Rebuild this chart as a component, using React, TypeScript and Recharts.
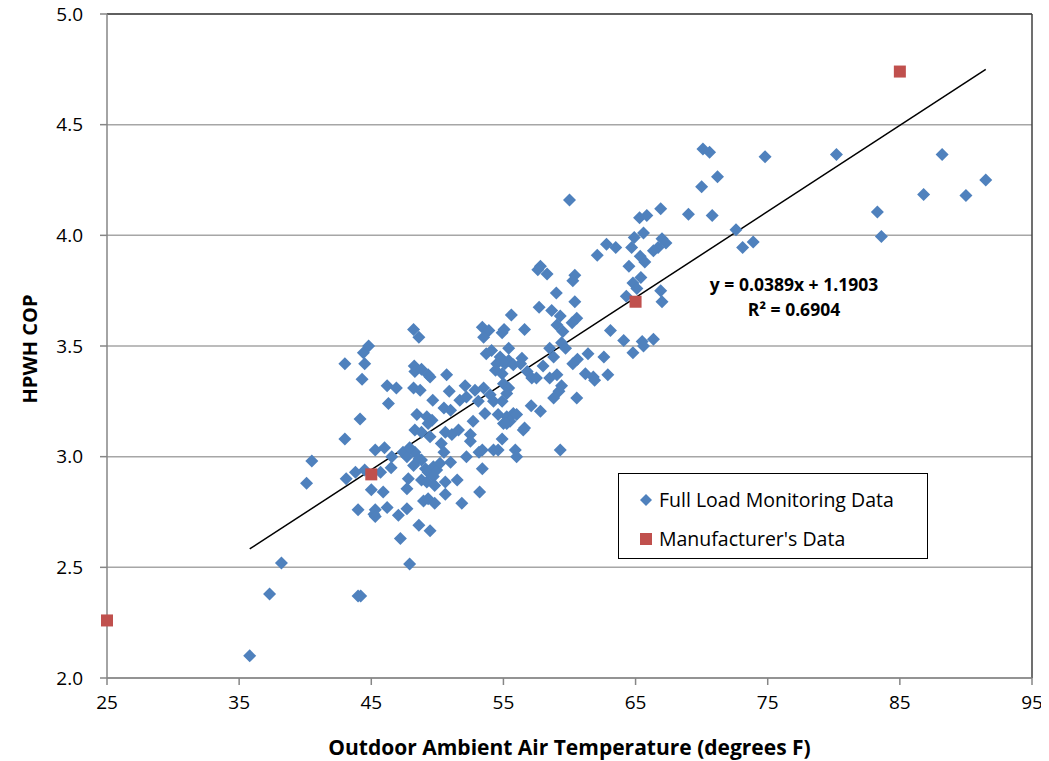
import React from 'react';
import {
  ScatterChart,
  Scatter,
  XAxis,
  YAxis,
  CartesianGrid,
  ReferenceLine,
  Label,
} from 'recharts';

// Full load monitoring data: outdoor temperature (°F) and COP
const monitorTemp: number[] = [
  35.8, 37.3, 38.2, 44.0, 44.2, 40.1, 40.5, 43.0, 44.15, 43.0,
  44.3, 44.5, 44.4, 44.8, 46.2, 46.3, 43.1, 43.8, 44.5, 45.3,
  46.0, 45.0, 45.9, 44.0, 45.2, 45.3, 46.2, 46.5, 45.7, 46.9,
  60.0, 65.3, 65.85, 66.9, 64.9, 65.6, 67.0, 67.3, 66.7, 66.35,
  62.8, 63.5, 64.7, 62.1, 65.35, 65.7, 64.5, 57.8, 57.6, 58.3,
  60.4, 60.25, 65.4, 64.8, 65.1, 59.0, 66.9, 64.3, 60.4, 67.0,
  57.7, 58.65, 59.3, 55.6, 60.55, 60.2, 59.05, 59.5, 63.1, 64.1,
  65.5, 65.6, 66.35, 64.8, 48.2, 48.6, 53.4, 53.9, 53.5, 55.05,
  54.9, 56.6, 59.4, 59.7, 58.5, 58.8, 61.4, 62.6, 60.6, 60.25,
  58.0, 61.2, 61.8, 61.9, 62.9, 59.05, 58.5, 59.4, 59.2, 58.8,
  60.55, 57.1, 57.8, 48.25, 48.3, 48.8, 49.3, 49.45, 48.2, 48.7,
  50.7, 50.9, 49.65, 48.45, 49.2, 49.6, 50.5, 51.0, 52.1, 52.85,
  53.5, 51.7, 52.2, 54.1, 53.7, 55.4, 54.75, 55.4, 56.4, 54.5,
  55.1, 55.75, 56.3, 54.4, 54.9, 56.8, 57.15, 57.5, 54.0, 54.25,
  55.0, 55.4, 55.25, 54.9, 54.6, 55.25, 55.75, 56.0, 55.5, 55.0,
  53.6, 52.7, 56.6, 53.1, 46.55, 47.4, 47.7, 48.3, 48.6, 48.8,
  48.2, 49.1, 49.3, 49.7, 49.95, 50.2, 51.0, 48.8, 49.2, 49.7,
  49.8, 50.6, 47.8, 47.7, 48.95, 49.3, 49.8, 50.6, 51.5, 51.85,
  53.4, 53.2, 45.3, 47.05, 47.7, 48.6, 49.45, 47.2, 47.9, 49.3,
  48.3, 48.8, 49.45, 50.6, 51.1, 51.6, 52.5, 52.5, 55.25, 56.5,
  54.9, 54.25, 54.6, 55.9, 56.0, 53.4, 53.15, 52.2, 50.3, 50.5,
  47.9, 59.3, 70.1, 70.6, 74.8, 80.2, 88.2, 71.2, 70.0, 91.5,
  86.8, 90.0, 83.3, 69.0, 70.8, 72.6, 83.6, 73.9, 73.1,
];

const monitorCop: number[] = [
  2.10, 2.38, 2.52, 2.37, 2.37, 2.88, 2.98, 3.08, 3.17, 3.42,
  3.35, 3.42, 3.47, 3.50, 3.32, 3.24, 2.90, 2.93, 2.94, 3.03,
  3.04, 2.85, 2.84, 2.76, 2.74, 2.76, 2.77, 2.95, 2.93, 3.31,
  4.16, 4.08, 4.09, 4.12, 3.99, 4.01, 3.985, 3.965, 3.945, 3.93,
  3.96, 3.945, 3.945, 3.91, 3.905, 3.88, 3.86, 3.86, 3.845, 3.825,
  3.82, 3.795, 3.81, 3.785, 3.76, 3.74, 3.75, 3.725, 3.70, 3.70,
  3.675, 3.66, 3.635, 3.64, 3.625, 3.605, 3.595, 3.565, 3.57, 3.525,
  3.52, 3.50, 3.53, 3.47, 3.575, 3.54, 3.585, 3.57, 3.54, 3.575,
  3.56, 3.575, 3.515, 3.49, 3.49, 3.45, 3.465, 3.45, 3.44, 3.42,
  3.41, 3.375, 3.36, 3.345, 3.37, 3.37, 3.355, 3.32, 3.295, 3.265,
  3.265, 3.23, 3.205, 3.41, 3.385, 3.395, 3.37, 3.36, 3.31, 3.30,
  3.37, 3.295, 3.255, 3.19, 3.18, 3.165, 3.22, 3.21, 3.32, 3.30,
  3.31, 3.255, 3.27, 3.48, 3.465, 3.49, 3.45, 3.435, 3.445, 3.42,
  3.42, 3.415, 3.42, 3.39, 3.375, 3.385, 3.355, 3.355, 3.28, 3.25,
  3.33, 3.31, 3.285, 3.25, 3.19, 3.18, 3.195, 3.19, 3.16, 3.15,
  3.195, 3.16, 3.13, 3.25, 3.00, 3.02, 3.00, 3.02, 2.99, 2.985,
  2.96, 2.945, 2.93, 2.955, 2.94, 2.97, 2.975, 2.895, 2.885, 2.91,
  2.87, 2.885, 2.90, 2.855, 2.80, 2.81, 2.79, 2.83, 2.895, 2.79,
  2.945, 2.84, 2.73, 2.735, 2.765, 2.69, 2.665, 2.63, 2.515, 3.15,
  3.12, 3.11, 3.09, 3.11, 3.10, 3.12, 3.10, 3.07, 3.15, 3.12,
  3.08, 3.03, 3.03, 3.03, 3.00, 3.03, 3.02, 3.00, 3.06, 3.02,
  3.04, 3.03, 4.39, 4.375, 4.355, 4.365, 4.365, 4.265, 4.22, 4.25,
  4.185, 4.18, 4.105, 4.095, 4.09, 4.025, 3.995, 3.97, 3.945,
];

// Manufacturer's data
const mfrTemp: number[] = [25, 45, 65, 85];
const mfrCop: number[] = [2.26, 2.92, 3.70, 4.74];

// Axis ticks
const xTicks: number[] = [25, 35, 45, 55, 65, 75, 85, 95];
const yTicks: number[] = [2.0, 2.5, 3.0, 3.5, 4.0, 4.5, 5.0];

// Linear trendline
const trendSlope = 0.0389;
const trendIntercept = 1.1903;
const equationText = 'y = 0.0389x + 1.1903';
const r2Text = 'R² = 0.6904';

const monitorData = monitorTemp.map((t, i) => ({ x: t, y: monitorCop[i] }));
const mfrData = mfrTemp.map((t, i) => ({ x: t, y: mfrCop[i] }));
const trendX0 = Math.min(...monitorTemp);
const trendX1 = Math.max(...monitorTemp);
const trendSeg = [
  { x: trendX0, y: trendSlope * trendX0 + trendIntercept },
  { x: trendX1, y: trendSlope * trendX1 + trendIntercept },
];

const BLUE = '#4F81BD';
const RED = '#C0504D';
const FONT = "'Open Sans', 'Noto Sans', sans-serif";

const Diamond = (props: any) => {
  const { cx, cy } = props;
  if (cx == null || cy == null) return null;
  const r = 6.5;
  return (
    <polygon
      points={`${cx},${cy - r} ${cx + r},${cy} ${cx},${cy + r} ${cx - r},${cy}`}
      fill={BLUE}
    />
  );
};

const Square = (props: any) => {
  const { cx, cy } = props;
  if (cx == null || cy == null) return null;
  const s = 12;
  return <rect x={cx - s / 2} y={cy - s / 2} width={s} height={s} fill={RED} />;
};

export default function App() {
  return (
    <div
      style={{
        position: 'relative',
        width: 1041,
        height: 761,
        marginTop: -8,
        fontFamily: FONT,
      }}
    >
      <ScatterChart
        width={1041}
        height={761}
        margin={{ top: 14, right: 17, bottom: 0, left: 0 }}
      >
        <CartesianGrid vertical={false} stroke="#A6A6A6" strokeWidth={1.5} />
        <XAxis
          type="number"
          dataKey="x"
          domain={[25, 95]}
          ticks={xTicks}
          interval={0}
          height={83}
          axisLine={{ stroke: '#868686', strokeWidth: 1.5 }}
          tickLine={{ stroke: '#868686', strokeWidth: 1.5 }}
          tickSize={7}
          tickMargin={11}
          tick={{ fill: '#000', fontSize: 19, fontFamily: FONT }}
        >
          <Label
            value="Outdoor Ambient Air Temperature (degrees F)"
            position="insideBottom"
            offset={6}
            style={{ fontSize: 21, fontWeight: 'bold', fill: '#000', fontFamily: FONT }}
          />
        </XAxis>
        <YAxis
          type="number"
          dataKey="y"
          domain={[2, 5]}
          ticks={yTicks}
          interval={0}
          width={99}
          tickFormatter={(v: number) => v.toFixed(1)}
          axisLine={{ stroke: '#868686', strokeWidth: 1.5 }}
          tickLine={{ stroke: '#868686', strokeWidth: 1.5 }}
          tickSize={7}
          tickMargin={17}
          tick={{ fill: '#000', fontSize: 19, fontFamily: FONT }}
        >
          <Label
            content={() => {
              const cx = 21;
              const cy = 349;
              return (
                <text
                  x={cx}
                  y={cy}
                  transform={`rotate(-90, ${cx}, ${cy})`}
                  textAnchor="middle"
                  dominantBaseline="central"
                  style={{ fontSize: 20, fontWeight: 'bold', fill: '#000', fontFamily: FONT }}
                >
                  HPWH COP
                </text>
              );
            }}
          />
        </YAxis>
        <ReferenceLine x={95} stroke="#404040" strokeWidth={1.5} />
        <ReferenceLine y={5} stroke="#404040" strokeWidth={1.5} />
        <Scatter
          name="Full Load Monitoring Data"
          data={monitorData}
          shape={Diamond}
          isAnimationActive={false}
        />
        <Scatter
          name="Manufacturer's Data"
          data={mfrData}
          shape={Square}
          isAnimationActive={false}
        />
        <ReferenceLine segment={trendSeg} stroke="#000" strokeWidth={1.5} ifOverflow="visible" />
      </ScatterChart>

      {/* Trendline equation */}
      <div
        style={{
          position: 'absolute',
          left: 686,
          top: 272,
          width: 200,
          textAlign: 'center',
          fontSize: 17.5,
          fontWeight: 'bold',
          lineHeight: '25px',
          color: '#000',
          whiteSpace: 'nowrap',
        }}
      >
        <div>{equationText}</div>
        <div>{r2Text}</div>
      </div>

      {/* Legend */}
      <div
        style={{
          position: 'absolute',
          left: 610,
          top: 473,
          width: 310,
          height: 86,
          border: '1.5px solid #000',
          background: '#fff',
          boxSizing: 'border-box',
          fontSize: 19.5,
          color: '#000',
          whiteSpace: 'nowrap',
        }}
      >
        <div style={{ position: 'absolute', left: 20, top: 12, display: 'flex', alignItems: 'center', lineHeight: '27px' }}>
          <svg width={14} height={14} style={{ marginRight: 6 }}>
            <polygon points="7,1 13,7 7,13 1,7" fill={BLUE} />
          </svg>
          <span>Full Load Monitoring Data</span>
        </div>
        <div style={{ position: 'absolute', left: 20, top: 51, display: 'flex', alignItems: 'center', lineHeight: '27px' }}>
          <svg width={14} height={14} style={{ marginRight: 6 }}>
            <rect x={1} y={1} width={12} height={12} fill={RED} />
          </svg>
          <span>Manufacturer's Data</span>
        </div>
      </div>
    </div>
  );
}
